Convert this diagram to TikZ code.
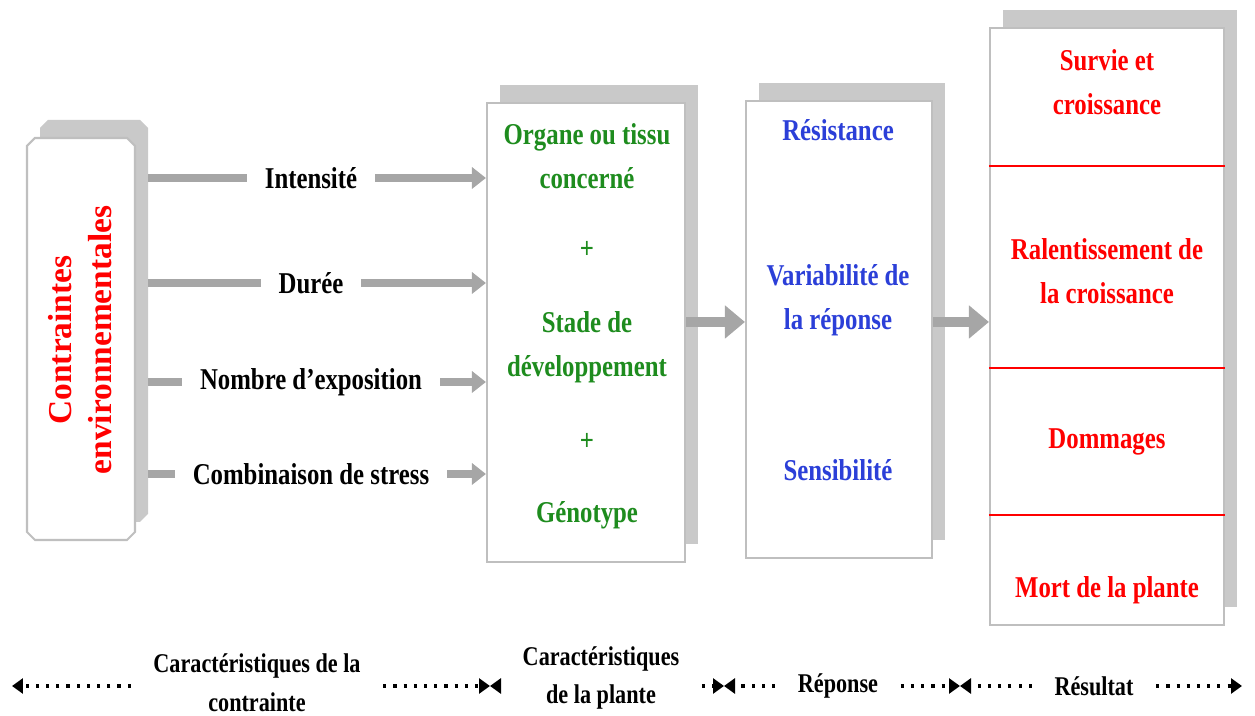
\documentclass[tikz,border=0pt]{standalone}
\usepackage{fontspec}
\setmainfont{Liberation Serif}[FakeStretch=0.82]
\newfontfamily\plainserif{Liberation Serif}
\usetikzlibrary{arrows.meta}
\usetikzlibrary{shadows}
\usetikzlibrary{shapes.misc}
\usetikzlibrary{calc}

\definecolor{plantgreen}{HTML}{1E8C1E}
\definecolor{respblue}{HTML}{2B3FD8}
\definecolor{arrowgray}{HTML}{A6A6A6}
\definecolor{boxgray}{HTML}{BFBFBF}
\definecolor{shadowgray}{HTML}{C9C9C9}

\tikzset{
  panel/.style={draw=boxgray, line width=0.6pt, fill=white,
    drop shadow={shadow xshift=0.13cm, shadow yshift=0.18cm, fill=shadowgray, opacity=1}},
  boxtext/.style={font=\fontsize{8.6}{12.5}\selectfont\bfseries, align=center},
  rowlabel/.style={boxtext, fill=white, inner xsep=0.18cm},
  flow/.style={draw=arrowgray, line width=2.5pt, -{Triangle[width=0.21cm,length=0.14cm]}, shorten <=0.12cm},
  bigflow/.style={draw=arrowgray, line width=3pt, -{Triangle[width=0.32cm,length=0.2cm]}},
  scalearrow/.style={dotted, line width=0.9pt, -{Triangle[width=0.15cm,length=0.11cm]}},
  scalelabel/.style={font=\fontsize{7.7}{11}\selectfont\bfseries, align=center, inner xsep=0.22cm},
  divider/.style={red, line width=0.7pt},
}

\begin{document}
\begin{tikzpicture}
    \useasboundingbox (0,0) rectangle (12.55,7.16);

    % the four panels
    \node[panel, chamfered rectangle, chamfered rectangle xsep=0.04cm, chamfered rectangle ysep=0.04cm, minimum width=1.08cm, minimum height=4.02cm] (contr) at (0.81,3.77) {};
    \node[panel, minimum width=1.98cm, minimum height=4.59cm] (plante) at (5.86,3.835) {};
    \node[panel, minimum width=1.86cm, minimum height=4.57cm] (reponse) at (8.39,3.865) {};
    \node[panel, minimum width=2.34cm, minimum height=5.97cm] (resultat) at (11.07,3.895) {};

    \node[rotate=90, text=red, font=\plainserif\fontsize{9.5}{11.5}\selectfont\bfseries, align=center] (contrtext) at (0.80,3.76) {Contraintes\\environnementales};

    % plant
    \node[boxtext, text=plantgreen] (organe) at (5.87,5.595) {Organe ou tissu\\concerné};
    \node[boxtext, text=plantgreen] (plusa) at (5.87,4.66) {+};
    \node[boxtext, text=plantgreen] (stade) at (5.87,3.69) {Stade de\\développement};
    \node[boxtext, text=plantgreen] (plusb) at (5.87,2.74) {+};
    \node[boxtext, text=plantgreen] (genotype) at (5.87,2.01) {Génotype};

    % response
    \node[boxtext, text=respblue] (resist) at (8.38,5.86) {Résistance};
    \node[boxtext, text=respblue] (variab) at (8.38,4.16) {Variabilité de\\la réponse};
    \node[boxtext, text=respblue] (sensib) at (8.38,2.46) {Sensibilité};

    % result
    \node[boxtext, text=red] (survie) at (11.07,6.335) {Survie et\\croissance};
    \node[boxtext, text=red] (ralent) at (11.07,4.445) {Ralentissement de\\la croissance};
    \node[boxtext, text=red] (dommages) at (11.07,2.74) {Dommages};
    \node[boxtext, text=red] (mort) at (11.07,1.26) {Mort de la plante};

    \draw[divider] (resultat.west |- 0,5.50) -- (resultat.east |- 0,5.50);
    \draw[divider] (resultat.west |- 0,3.48) -- (resultat.east |- 0,3.48);
    \draw[divider] (resultat.west |- 0,2.01) -- (resultat.east |- 0,2.01);

    % arrows between panels
    \draw[flow] (contr.east |- 0,5.38) -- node[rowlabel] (intens) {Intensité} (plante.west |- 0,5.38);
    \draw[flow] (contr.east |- 0,4.33) -- node[rowlabel] (duree) {Durée} (plante.west |- 0,4.33);
    \draw[flow] (contr.east |- 0,3.34) -- node[rowlabel] (nombre) {Nombre d’exposition} (plante.west |- 0,3.34);
    \draw[flow] (contr.east |- 0,2.42) -- node[rowlabel] (combin) {Combinaison de stress} (plante.west |- 0,2.42);
    \draw[bigflow] (plante.east |- 0,3.94) -- (reponse.west |- 0,3.94);
    \draw[bigflow] (reponse.east |- 0,3.94) -- (resultat.west |- 0,3.94);

    % scale at the bottom
    \coordinate (b0) at (0.12,0.30);
    \coordinate (b1) at (4.90,0.30);
    \coordinate (b2) at (7.24,0.30);
    \coordinate (b3) at (9.60,0.30);
    \coordinate (b4) at (12.42,0.30);
    \node[scalelabel] (carcontr) at (2.57,0.33) {Caractéristiques de la\\contrainte};
    \node[scalelabel] (carplante) at (6.01,0.38) {Caractéristiques\\de la plante};
    \node[scalelabel] (rep) at (8.38,0.30) {Réponse};
    \node[scalelabel] (res) at (10.94,0.30) {Résultat};
    \draw[scalearrow] (carcontr.west |- b0) -- (b0);
    \draw[scalearrow] (carcontr.east |- b1) -- (b1);
    \draw[scalearrow] (carplante.west |- b1) -- (b1);
    \draw[scalearrow] (carplante.east |- b2) -- (b2);
    \draw[scalearrow] (rep.west |- b2) -- (b2);
    \draw[scalearrow] (rep.east |- b3) -- (b3);
    \draw[scalearrow] (res.west |- b3) -- (b3);
    \draw[scalearrow] (res.east |- b4) -- (b4);
\end{tikzpicture}
\end{document}
